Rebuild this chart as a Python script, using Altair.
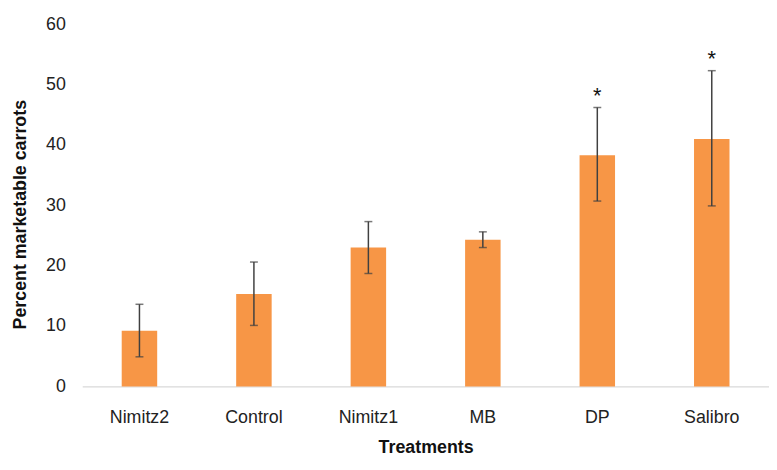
import altair as alt
import pandas as pd

treatments = ["Nimitz2", "Control", "Nimitz1", "MB", "DP", "Salibro"]
means = [9.2, 15.3, 23.0, 24.3, 38.3, 41.0]
err_low = [4.9, 10.1, 18.7, 23.0, 30.7, 29.9]
err_high = [13.6, 20.6, 27.3, 25.6, 46.2, 52.3]
marks = ["", "", "", "", "*", "*"]

df = pd.DataFrame({
    "Treatment": treatments,
    "Mean": means,
    "Low": err_low,
    "High": err_high,
    "Mark": marks,
})

FONT = "Liberation Sans"

x = alt.X(
    "Treatment:N",
    sort=treatments,
    scale=alt.Scale(paddingInner=0.69, paddingOuter=0.345),
    axis=alt.Axis(
        title="Treatments",
        labelAngle=0,
        ticks=False,
        domainColor="#d9d9d9",
        domainWidth=1.5,
        labelPadding=22,
        titlePadding=13,
        labelFontSize=18,
        labelColor="#222222",
        titleFontSize=18,
        titleFontWeight="bold",
        titleColor="#111111",
    ),
)

y_scale = alt.Scale(domain=[0, 60])

bars = alt.Chart(df).mark_bar(color="#F79646").encode(
    x=x,
    y=alt.Y(
        "Mean:Q",
        scale=y_scale,
        axis=alt.Axis(
            title="Percent marketable carrots",
            values=[0, 10, 20, 30, 40, 50, 60],
            grid=False,
            domain=False,
            ticks=False,
            labelPadding=17,
            titlePadding=16,
            titleY=192,
            labelFontSize=18,
            labelColor="#222222",
            titleFontSize=18,
            titleFontWeight="bold",
            titleColor="#111111",
        ),
    ),
)

rules = alt.Chart(df).mark_rule(color="#404040", strokeWidth=1.5).encode(
    x=alt.X("Treatment:N", sort=treatments),
    y=alt.Y("Low:Q", scale=y_scale),
    y2="High:Q",
)

cap_hi = alt.Chart(df).mark_tick(color="#404040", thickness=1.5, size=8, orient="horizontal").encode(
    x=alt.X("Treatment:N", sort=treatments),
    y=alt.Y("High:Q", scale=y_scale),
)
cap_lo = alt.Chart(df).mark_tick(color="#404040", thickness=1.5, size=8, orient="horizontal").encode(
    x=alt.X("Treatment:N", sort=treatments),
    y=alt.Y("Low:Q", scale=y_scale),
)

stars = alt.Chart(df).mark_text(dy=-5, fontSize=22, font=FONT, color="#111111", baseline="alphabetic").encode(
    x=alt.X("Treatment:N", sort=treatments),
    y=alt.Y("High:Q", scale=y_scale),
    text="Mark:N",
)

chart = alt.layer(bars, rules, cap_hi, cap_lo, stars).properties(
    width=694,
    height=366,
    autosize=alt.AutoSizeParams(type="none"),
    padding={"left": 75, "top": 14, "right": 0, "bottom": 70},
).configure(font=FONT).configure_view(stroke=None)

chart.save("out.html", embed_options={"renderer": "svg", "actions": False})
